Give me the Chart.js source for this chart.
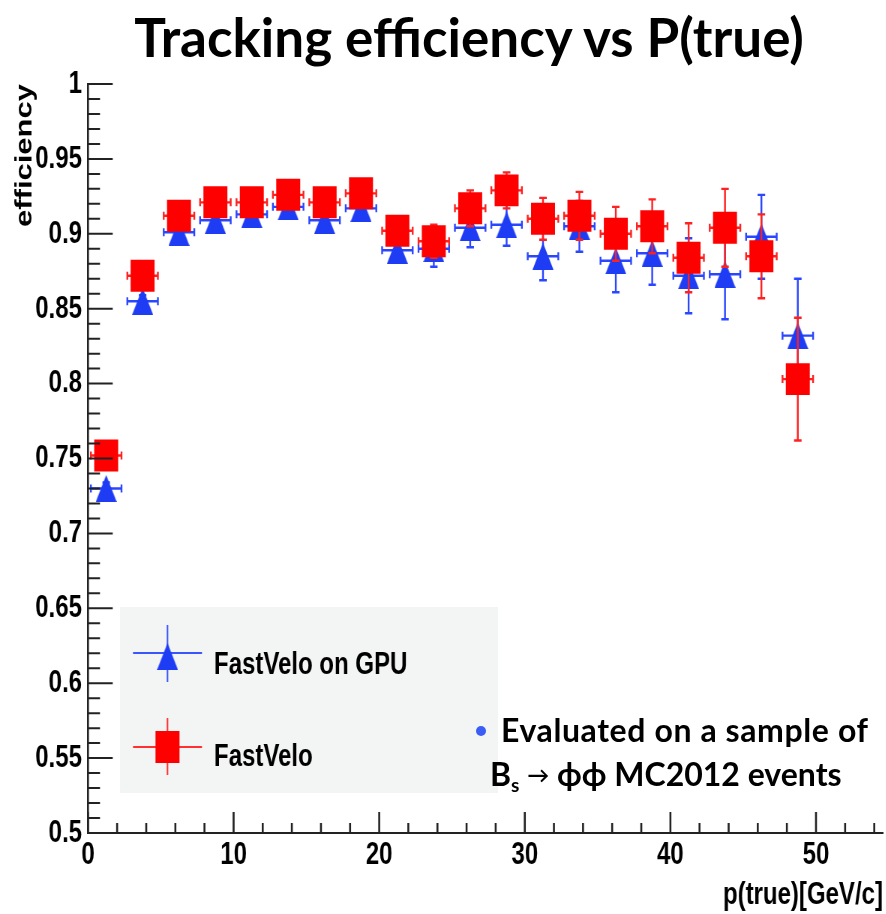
<!DOCTYPE html>
<html>
<head>
<meta charset="utf-8">
<title>Tracking efficiency vs P(true)</title>
<script src="https://cdn.jsdelivr.net/npm/chart.js@4.4.1/dist/chart.umd.min.js"></script>
<style>
  html, body { margin: 0; padding: 0; background: #fff; overflow: hidden; }
  #page { position: relative; width: 886px; height: 914px; }
  /* the plot in the slide is squeezed horizontally, so draw it wider and scale it */
  #plot { position: absolute; left: 0; top: 0; transform: scaleX(0.75); transform-origin: 0 0; }
  .slide { position: absolute; font-family: Lato, 'Open Sans', sans-serif; font-weight: bold; color: #000; white-space: nowrap; line-height: 1; }
  #title { left: 0; top: 10px; width: 938px; text-align: center; font-size: 53px; }
  #note1 { left: 501px; top: 714px; font-size: 32px; letter-spacing: 0.6px; }
  #note2 { left: 490px; top: 758px; font-size: 32px; }
  #note2 .sub { position: relative; top: 6px; font-size: 19px; }
  #note2 .arrow { font-size: 22px; position: relative; top: -3px; }
  #bullet { position: absolute; left: 476px; top: 726px; width: 10px; height: 10px; border-radius: 50%; background: #3b5cf6; }
</style>
</head>
<body>
<div id="page">
  <canvas id="plot" width="1181" height="914"></canvas>
  <div id="title" class="slide">Tracking efficiency vs P(true)</div>
  <div id="bullet"></div>
  <div id="note1" class="slide">Evaluated on a sample of</div>
  <div id="note2" class="slide">B<span class="sub">s</span> <span class="arrow">→</span> ϕϕ MC2012 events</div>
</div>
<script>
// bin centres of p(true) in GeV/c
const pCenters = [1.25, 3.75, 6.25, 8.75, 11.25, 13.75, 16.25, 18.75, 21.25, 23.75,
                  26.25, 28.75, 31.25, 33.75, 36.25, 38.75, 41.25, 43.75, 46.25, 48.75];
const pErr = 1.05;

// FastVelo on GPU
const gpuEff = [0.730, 0.855, 0.901, 0.909, 0.913, 0.918, 0.909, 0.917, 0.889, 0.890,
                0.904, 0.906, 0.885, 0.905, 0.882, 0.887, 0.872, 0.873, 0.898, 0.832];
const gpuErr = [0.004, 0.004, 0.004, 0.004, 0.004, 0.005, 0.005, 0.006, 0.008, 0.012,
                0.013, 0.014, 0.016, 0.017, 0.021, 0.021, 0.025, 0.030, 0.028, 0.038];

// FastVelo
const cpuEff = [0.752, 0.872, 0.912, 0.921, 0.921, 0.926, 0.921, 0.927, 0.902, 0.895,
                0.917, 0.929, 0.910, 0.912, 0.900, 0.905, 0.884, 0.904, 0.885, 0.803];
const cpuErr = [0.004, 0.004, 0.004, 0.004, 0.004, 0.005, 0.005, 0.006, 0.008, 0.011,
                0.012, 0.012, 0.014, 0.016, 0.018, 0.018, 0.023, 0.026, 0.028, 0.041];

const xTickValues = [0, 10, 20, 30, 40, 50];
const yTickValues = [0.5, 0.55, 0.6, 0.65, 0.7, 0.75, 0.8, 0.85, 0.9, 0.95, 1];
const xTitle = 'p(true)[GeV/c]';
const yTitle = 'efficiency';

const SQ = 0.75; // horizontal squeeze of the canvas
const sx = v => v / SQ;
const axisFont = "'Liberation Sans', Arial, sans-serif";

// triangle marker, box centred like the ROOT one
function makeTriangle(w, h, color) {
    const c = document.createElement('canvas');
    c.width = w;
    c.height = h;
    const g = c.getContext('2d');
    g.fillStyle = color;
    g.beginPath();
    g.moveTo(w / 2, 0);
    g.lineTo(w, h);
    g.lineTo(0, h);
    g.closePath();
    g.fill();
    return c;
}
const triangle = makeTriangle(28, 27, '#1f3cf5');

const gpuPoints = pCenters.map((p, i) => ({ x: p, y: gpuEff[i], xErr: pErr, yErr: gpuErr[i] }));
const cpuPoints = pCenters.map((p, i) => ({ x: p, y: cpuEff[i], xErr: pErr, yErr: cpuErr[i] }));

// error bars with end caps, drawn just before each dataset's markers
const errorBars = {
    id: 'errorBars',
    beforeDatasetDraw(chart, args) {
        const ds = chart.data.datasets[args.index];
        const xs = chart.scales.x, ys = chart.scales.y;
        const ctx = chart.ctx;
        ctx.save();
        ctx.strokeStyle = ds.errorColor;
        ctx.lineWidth = 2.4;
        ds.data.forEach(pt => {
            const x = xs.getPixelForValue(pt.x);
            const y = ys.getPixelForValue(pt.y);
            const x0 = xs.getPixelForValue(pt.x - pt.xErr);
            const x1 = xs.getPixelForValue(pt.x + pt.xErr);
            const y0 = ys.getPixelForValue(pt.y - pt.yErr);
            const y1 = ys.getPixelForValue(pt.y + pt.yErr);
            ctx.beginPath();
            ctx.moveTo(x0, y); ctx.lineTo(x1, y);
            ctx.moveTo(x0, y - 4); ctx.lineTo(x0, y + 4);
            ctx.moveTo(x1, y - 4); ctx.lineTo(x1, y + 4);
            ctx.moveTo(x, y0); ctx.lineTo(x, y1);
            ctx.moveTo(x - 5, y0); ctx.lineTo(x + 5, y0);
            ctx.moveTo(x - 5, y1); ctx.lineTo(x + 5, y1);
            ctx.stroke();
        });
        ctx.restore();
    }
};

// inward major/minor ticks like ROOT
const axisTicks = {
    id: 'axisTicks',
    afterDraw(chart) {
        const { ctx, chartArea: a, scales: { x, y } } = chart;
        ctx.save();
        ctx.strokeStyle = '#222';
        ctx.lineWidth = 2;
        ctx.beginPath();
        for (let i = 50; i <= 100; i++) {
            const py = y.getPixelForValue(i / 100);
            const len = i % 5 === 0 ? 33 : 16;
            ctx.moveTo(a.left, py);
            ctx.lineTo(a.left + len, py);
        }
        ctx.stroke();
        ctx.lineWidth = 2.6;
        ctx.beginPath();
        for (let v = 0; v <= x.max; v += 2) {
            const px = x.getPixelForValue(v);
            const len = v % 10 === 0 ? 21 : 10;
            ctx.moveTo(px, a.bottom);
            ctx.lineTo(px, a.bottom - len);
        }
        ctx.stroke();
        ctx.restore();
    }
};

// legend box in the lower left of the frame
const boxLegend = {
    id: 'boxLegend',
    afterDatasetsDraw(chart) {
        const ctx = chart.ctx;
        const [gpu, cpu] = chart.data.datasets;
        ctx.save();
        ctx.fillStyle = '#f3f4f4';
        ctx.fillRect(sx(120), 607, sx(498) - sx(120), 186);

        ctx.lineWidth = 2;
        // GPU entry
        ctx.strokeStyle = '#3a55ff';
        ctx.beginPath();
        ctx.moveTo(sx(133), 653); ctx.lineTo(sx(202), 653);
        ctx.moveTo(sx(167.5), 625); ctx.lineTo(sx(167.5), 682);
        ctx.stroke();
        ctx.drawImage(triangle, sx(167.5) - 14, 643);
        // CPU entry
        ctx.strokeStyle = '#ff3030';
        ctx.beginPath();
        ctx.moveTo(sx(133), 747); ctx.lineTo(sx(202), 747);
        ctx.moveTo(sx(167.5), 718); ctx.lineTo(sx(167.5), 775);
        ctx.stroke();
        ctx.fillStyle = '#ff0000';
        ctx.fillRect(sx(167.5) - 16, 731, 32, 32);

        ctx.fillStyle = '#000';
        ctx.font = 'bold 32px ' + axisFont;
        ctx.textAlign = 'left';
        ctx.textBaseline = 'alphabetic';
        ctx.fillText(gpu.label, sx(214), 674);
        ctx.fillText(cpu.label, sx(214), 765.5);
        ctx.restore();
    }
};

new Chart(document.getElementById('plot'), {
    type: 'scatter',
    data: {
        datasets: [
            {
                label: 'FastVelo on GPU',
                data: gpuPoints,
                pointStyle: triangle,
                pointRadius: 14,
                pointBorderWidth: 0,
                backgroundColor: '#1f3cf5',
                errorColor: '#2a46ff',
                order: 2
            },
            {
                label: 'FastVelo',
                data: cpuPoints,
                pointStyle: 'rect',
                pointRadius: 22.6,
                pointBorderWidth: 0,
                backgroundColor: '#ff0000',
                errorColor: '#ff2020',
                order: 1
            }
        ]
    },
    options: {
        responsive: false,
        animation: false,
        devicePixelRatio: 1,
        layout: { autoPadding: false, padding: { top: 84, right: 3.7, left: 0, bottom: 0 } },
        plugins: {
            legend: { display: false },
            tooltip: { enabled: false }
        },
        scales: {
            x: {
                type: 'linear',
                min: 0,
                max: 54.6,
                afterBuildTicks: s => { s.ticks = xTickValues.map(v => ({ value: v })); },
                afterFit: s => {
                    s.height = 81;
                    s.paddingLeft = 0;
                    s.paddingRight = 0;
                },
                grid: { display: false, drawTicks: false },
                border: { display: true, color: '#222', width: 2 },
                ticks: {
                    padding: 3,
                    color: '#000',
                    maxRotation: 0,
                    font: { family: axisFont, size: 32, weight: 'bold' },
                    callback: v => String(v)
                },
                title: {
                    display: true,
                    text: xTitle,
                    align: 'end',
                    color: '#000',
                    padding: { top: 0, bottom: 0 },
                    font: { family: axisFont, size: 32, weight: 'bold' }
                }
            },
            y: {
                type: 'linear',
                min: 0.5,
                max: 1,
                afterBuildTicks: s => { s.ticks = yTickValues.map(v => ({ value: v })); },
                afterFit: s => {
                    s.width = sx(88);
                    s.paddingTop = 0;
                    s.paddingBottom = 0;
                },
                grid: { display: false, drawTicks: false },
                border: { display: true, color: '#222', width: 2.6 },
                ticks: {
                    padding: 8,
                    color: '#000',
                    font: { family: axisFont, size: 32, weight: 'bold' },
                    callback: v => String(v)
                },
                title: {
                    display: true,
                    text: yTitle,
                    align: 'end',
                    color: '#000',
                    padding: { top: 15, bottom: 0 },
                    font: { family: axisFont, size: 31, weight: 'bold' }
                }
            }
        }
    },
    plugins: [errorBars, axisTicks, boxLegend]
});
</script>
</body>
</html>
